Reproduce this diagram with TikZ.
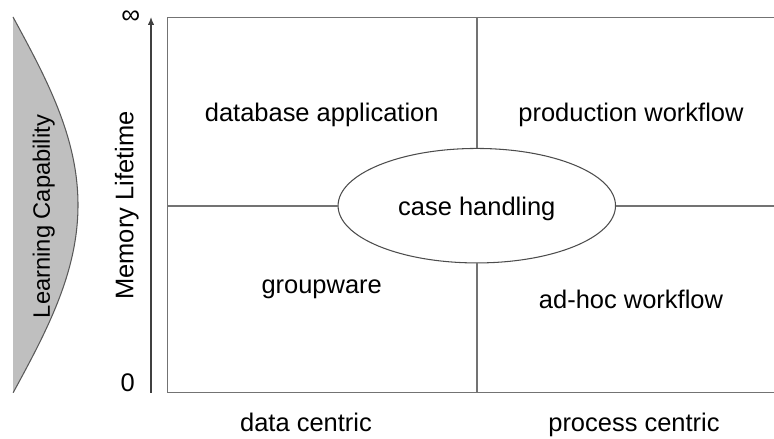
\documentclass[tikz,border=0pt]{standalone}
\usepackage{fontspec}
\setmainfont{Liberation Sans}
\usetikzlibrary{arrows.meta,shapes.geometric}

\begin{document}
\begin{tikzpicture}[x=0.02cm, y=0.02cm,
	every node/.style={font=\fontsize{14.5}{17}\selectfont, inner sep=0pt},
	>={Latex[length=1.6mm, width=1.3mm]},
	frame/.style={draw=black!55, line width=1pt},
	txt/.style={anchor=base}]
	\useasboundingbox (0,0) rectangle (774,439);
	% learning capability
	\fill[black!25] (13,422) -- plot[domain=0:1, samples=60, smooth] ({13+65*sin(180*\x)}, {422-376*\x}) -- cycle;
	\draw[black!65, line width=0.6pt] plot[domain=0:1, samples=60, smooth] ({13+65*sin(180*\x)}, {422-376*\x});
	\node[txt, rotate=90, font=\fontsize{13.5}{16}\selectfont] (learn) at (50,222.5) {Learning Capability};
	% memory lifetime axis
	\coordinate (ax0) at (151,46);
	\coordinate (ax1) at (151,422);
	\draw[->, black!75, line width=0.7pt] (ax0) -- (ax1);
	\node[txt, rotate=90] (mem) at (133.3,233.5) {Memory Lifetime};
	\node[font=\fontsize{15}{17}\selectfont] (inf) at (130.7,421.5) {∞};
	\node[txt] (zero) at (127.8,47) {0};
	% quadrants
	\coordinate (tl) at (167.5,421.5);
	\coordinate (bl) at (167.5,46.5);
	\coordinate (tr) at (774,421.5);
	\coordinate (br) at (774,46.5);
	\draw[frame] (tr) -- (tl) -- (bl) -- (br);
	\node[ellipse, draw=black!70, line width=0.6pt, minimum width=5.55cm, minimum height=2.29cm,
		text height=11.6pt, text depth=0pt] (case) at (476.8,233.3) {case handling};
	\coordinate (ml) at (167.5,233.3);
	\coordinate (mr) at (774,233.3);
	\coordinate (mt) at (476.8,421.5);
	\coordinate (mb) at (476.8,46.5);
	\draw[frame] (ml) -- (case.west);
	\draw[frame] (case.east) -- (mr);
	\draw[frame] (mt) -- (case.north);
	\draw[frame] (case.south) -- (mb);
	\node[txt] (db) at (321.7,317.3) {database application};
	\node[txt] (prod) at (631,317.3) {production workflow};
	\node[txt] (group) at (321.7,145.7) {groupware};
	\node[txt] (adhoc) at (631,130) {ad-hoc workflow};
	\node[txt] (data) at (306,7.3) {data centric};
	\node[txt] (proc) at (634,7.3) {process centric};
\end{tikzpicture}
\end{document}
